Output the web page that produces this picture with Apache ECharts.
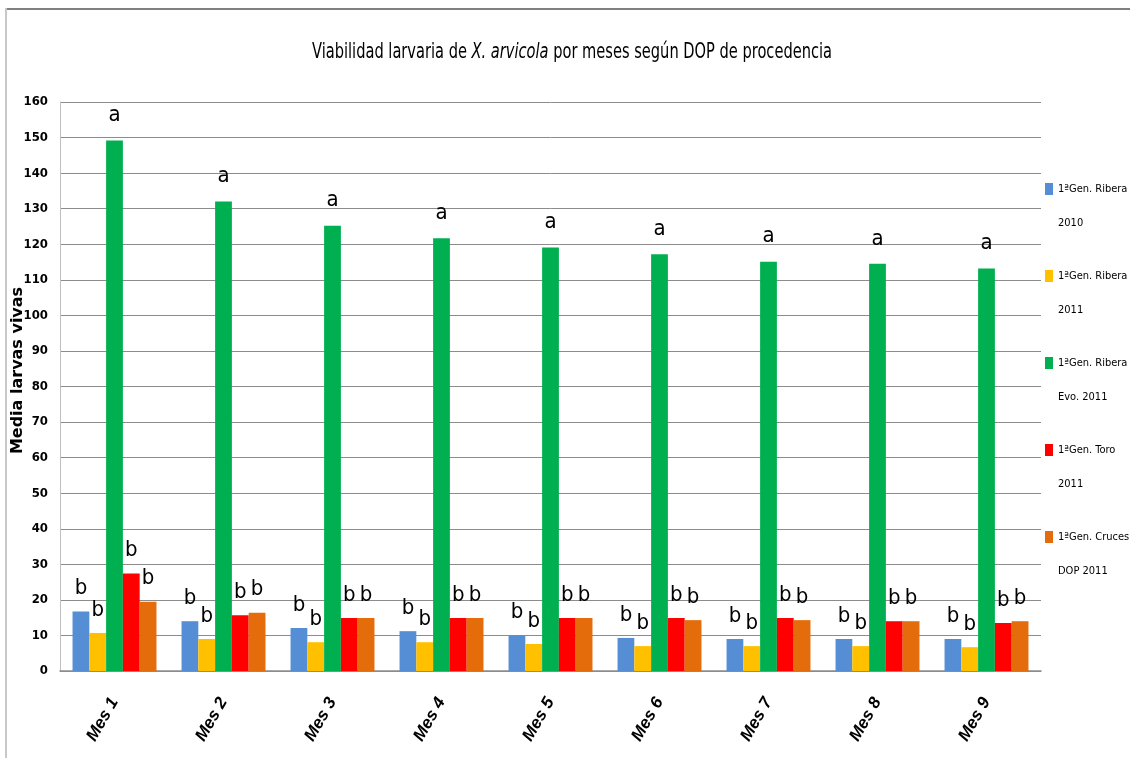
<!DOCTYPE html>
<html>
<head>
<meta charset="utf-8">
<title>Viabilidad larvaria de X. arvicola</title>
<script src="https://cdn.jsdelivr.net/npm/echarts@6/dist/echarts.min.js"></script>
<style>
  html, body { margin: 0; padding: 0; background: #ffffff; }
  #chart { width: 1130px; height: 758px; }
</style>
</head>
<body>
<div id="chart"></div>
<script>
// Months on the category axis
const months = ['Mes 1', 'Mes 2', 'Mes 3', 'Mes 4', 'Mes 5', 'Mes 6', 'Mes 7', 'Mes 8', 'Mes 9'];

// Series names (origin DOP / generation)
const seriesNames = [
  '1ªGen. Ribera 2010',
  '1ªGen. Ribera 2011',
  '1ªGen. Ribera Evo. 2011',
  '1ªGen. Toro 2011',
  '1ªGen. Cruces DOP 2011'
];

// Mean number of live larvae per month
const ribera2010    = [16.7, 14.0, 12.1, 11.2, 10.0, 9.3, 9.0, 9.0, 9.0];
const ribera2011    = [10.7, 9.0, 8.1, 8.1, 7.6, 7.0, 7.0, 7.0, 6.7];
const riberaEvo2011 = [149.2, 132.0, 125.2, 121.7, 119.1, 117.2, 115.1, 114.5, 113.2];
const toro2011      = [27.4, 15.7, 14.9, 14.9, 14.9, 14.9, 14.9, 14.0, 13.5];
const crucesDop2011 = [19.5, 16.4, 14.9, 14.9, 14.9, 14.3, 14.3, 14.0, 14.0];

// Significance group letter of each series
const groupLetters = ['b', 'b', 'a', 'b', 'b'];

// Value axis range
const yMin = 0;
const yMax = 160;
const yStep = 10;

// Title pieces (the species name is set in italics)
const titleParts = ['Viabilidad larvaria de ', 'X. arvicola', ' por meses según DOP de procedencia'];

const seriesValues = [ribera2010, ribera2011, riberaEvo2011, toro2011, crucesDop2011];
const seriesColors = ['#558ED5', '#FFC000', '#00B050', '#FF0000', '#E46C0A'];

// Pick the first installed family from a list (falls back to the last one)
const probeCtx = document.createElement('canvas').getContext('2d');
function hasFont(family) {
  const sample = 'abcdefghijklmnopqrstuvwxyz 0123456789 ABCDEFGHIJ';
  for (const base of ['monospace', 'serif']) {
    probeCtx.font = '40px ' + base;
    const w0 = probeCtx.measureText(sample).width;
    probeCtx.font = '40px "' + family + '", ' + base;
    if (probeCtx.measureText(sample).width !== w0) return true;
  }
  return false;
}
function pickFont(list) {
  for (const f of list) if (hasFont(f)) return f;
  return list[list.length - 1];
}
const narrowFamily = pickFont(['Liberation Sans Narrow', 'DejaVu Sans Condensed', 'Liberation Sans']);
const narrow = '"' + narrowFamily + '", sans-serif';

// Title is drawn in a condensed face: measure it and squeeze it horizontally
const titleSize = 22;
const titleTargetWidth = 520;
function measure(txt, style) {
  probeCtx.font = style + ' ' + titleSize + 'px ' + narrow;
  return probeCtx.measureText(txt).width;
}
const titleWidth = measure(titleParts[0], 'normal') + measure(titleParts[1], 'italic') + measure(titleParts[2], 'normal');
const titleScale = Math.min(1, titleTargetWidth / titleWidth);

const chart = echarts.init(document.getElementById('chart'), null, { renderer: 'canvas' });

chart.setOption({
  animation: false,
  backgroundColor: '#ffffff',
  legend: {
    orient: 'vertical',
    left: 1040,
    top: 133,
    itemGap: -15,
    itemWidth: 8,
    itemHeight: 12,
    icon: 'rect',
    formatter: function (name) {
      const w = name.split(' ');
      return '\n' + w.slice(0, 2).join(' ') + '\n' + w.slice(2).join(' ');
    },
    textStyle: {
      fontFamily: narrow,
      fontSize: 11,
      color: '#000000',
      lineHeight: 34
    },
    data: seriesNames
  },
  grid: {
    left: 60,
    right: 89,
    top: 102,
    bottom: 87,
    containLabel: false,
    outerBoundsMode: 'none'
  },
  xAxis: {
    type: 'category',
    data: months,
    axisLine: { show: true, lineStyle: { color: '#8c8c8c', width: 1.5 } },
    axisTick: { show: false },
    axisLabel: {
      rotate: 60,
      margin: 28,
      fontFamily: '"Liberation Sans", Arial, sans-serif',
      fontStyle: 'italic',
      fontWeight: 'bold',
      fontSize: 17,
      color: '#000000'
    }
  },
  yAxis: {
    type: 'value',
    min: yMin,
    max: yMax,
    interval: yStep,
    name: 'Media larvas vivas',
    nameLocation: 'middle',
    nameGap: 34,
    nameMoveOverlap: false,
    nameTextStyle: {
      fontFamily: '"DejaVu Sans", Verdana, sans-serif',
      fontWeight: 'bold',
      fontSize: 16,
      color: '#000000',
      padding: [0, 0, 0, 32]
    },
    axisLine: { show: true, lineStyle: { color: '#bfbfbf', width: 1 } },
    axisTick: { show: false },
    axisLabel: {
      margin: 12,
      fontFamily: narrow,
      fontWeight: 'bold',
      fontSize: 13,
      color: '#000000'
    },
    splitLine: { show: true, lineStyle: { color: '#8c8c8c', width: 1 } }
  },
  series: seriesNames.map(function (name, i) {
    return {
      name: name,
      type: 'bar',
      data: seriesValues[i],
      barGap: '0%',
      barCategoryGap: '23%',
      itemStyle: { color: seriesColors[i] },
      label: {
        show: true,
        position: 'top',
        distance: groupLetters[i] === 'a' ? 14 : 12,
        formatter: groupLetters[i],
        fontFamily: narrow,
        fontSize: 22,
        color: '#000000'
      }
    };
  }),
  graphic: [
    // outer frame of the chart area
    {
      type: 'rect',
      shape: { x: 5, y: 8, width: 1125, height: 2 },
      style: { fill: '#808080' },
      silent: true
    },
    {
      type: 'rect',
      shape: { x: 5, y: 8, width: 2, height: 750 },
      style: { fill: '#c8c8c8' },
      silent: true
    },
    // chart title
    {
      type: 'text',
      x: 572,
      y: 52,
      scaleX: titleScale,
      silent: true,
      style: {
        text: '{n|' + titleParts[0] + '}{i|' + titleParts[1] + '}{n|' + titleParts[2] + '}',
        align: 'center',
        verticalAlign: 'middle',
        fill: '#000000',
        rich: {
          n: { fontFamily: narrow, fontSize: titleSize, fontWeight: 'normal', fill: '#000000' },
          i: { fontFamily: narrow, fontSize: titleSize, fontWeight: 'normal', fontStyle: 'italic', fill: '#000000' }
        }
      }
    }
  ]
});
</script>
</body>
</html>
